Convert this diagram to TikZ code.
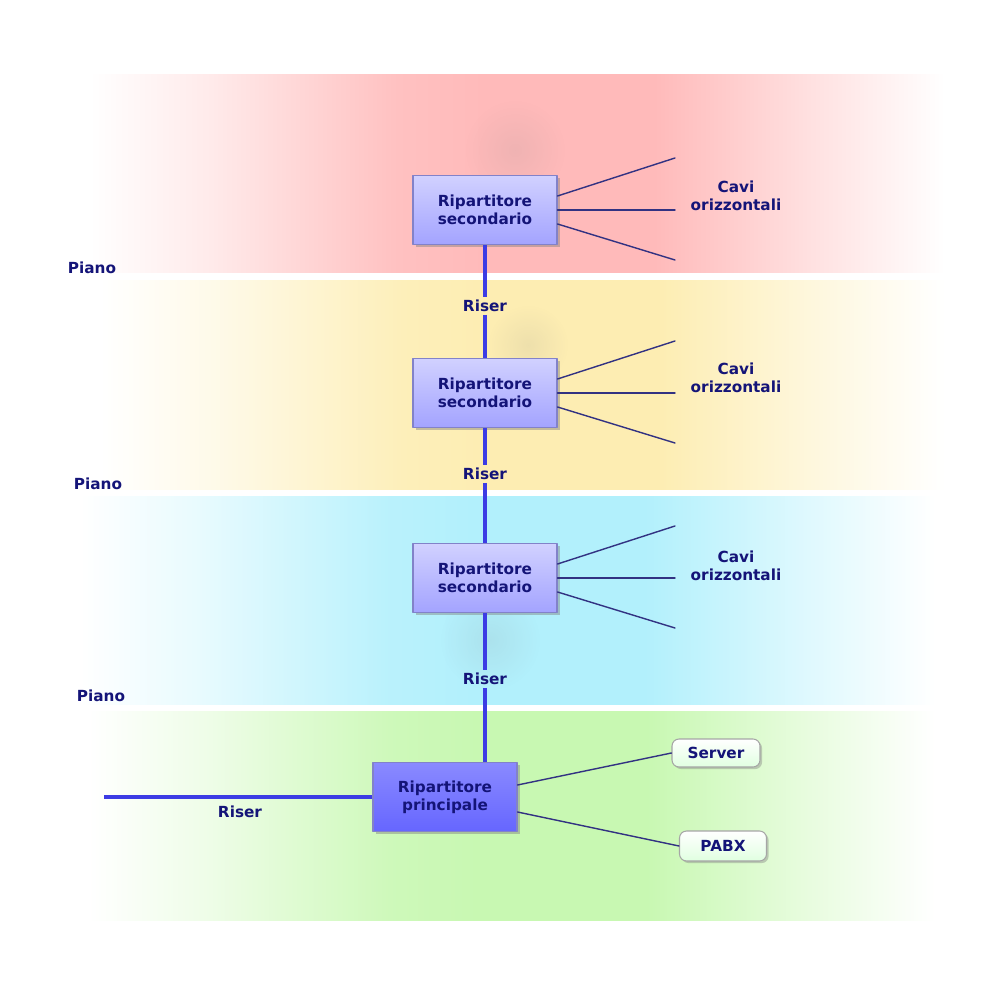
\documentclass[tikz,border=0pt]{standalone}
\usepackage{fontspec}
\setmainfont{DejaVu Sans}
\usetikzlibrary{shadows,fadings}

\definecolor{navy}{RGB}{20,20,120}
\definecolor{cablecol}{RGB}{50,50,130}
\definecolor{risercol}{RGB}{60,60,228}
\definecolor{redband}{RGB}{255,186,186}
\definecolor{yellowband}{RGB}{253,237,178}
\definecolor{blueband}{RGB}{178,240,252}
\definecolor{greenband}{RGB}{200,248,178}
\colorlet{bandcol}{redband}

\pgfdeclarehorizontalshading[bandcol]{band}{100bp}{color(0bp)=(white); color(25bp)=(white);
  color(32bp)=(bandcol!30); color(43bp)=(bandcol!90); color(48bp)=(bandcol); color(58bp)=(bandcol);
  color(67bp)=(bandcol!45); color(75bp)=(white); color(100bp)=(white)}
\tikzfading[name=glowfade, inner color=transparent!88, outer color=transparent!100]

\begin{document}
\begin{tikzpicture}[x=0.02cm, y=-0.02cm, font=\fontsize{8.7}{10}\selectfont\bfseries, line cap=round, line join=round,
    box/.style={draw=blue!40!gray!70, line width=0.6pt, top color=blue!18, bottom color=blue!36, text=navy,
      align=center, minimum width=2.88cm, minimum height=1.38cm,
      drop shadow={shadow xshift=1.6pt, shadow yshift=-1.6pt, opacity=0.45}},
    mainbox/.style={box, top color=blue!46, bottom color=blue!60},
    device/.style={draw=gray!70, line width=0.6pt, rounded corners=4pt, top color=white, bottom color=green!12!white,
      text=navy, minimum height=0.56cm,
      drop shadow={shadow xshift=1.2pt, shadow yshift=-1.2pt, opacity=0.4}},
    lbl/.style={text=navy, align=center, inner sep=1.5pt},
    riser/.style={draw=risercol, line width=2.8pt, line cap=butt},
    cable/.style={draw=cablecol, line width=0.8pt}]
\useasboundingbox (0,0) rectangle (1008,1006);
\fill[white] (0,0) rectangle (1008,1006);

% fasce dei piani
\foreach \col/\xa/\ya/\xb/\yb in {redband/90/75/945/273, yellowband/100/281/945/490,
    blueband/80/497/935/705, greenband/88/712/935/920} {
  \colorlet{bandcol}{\col}
  \shade[shading=band] (\xa,\ya) rectangle (\xb,\yb);
}

% aloni
\fill[black!50, path fading=glowfade] (515,150) circle (50);
\fill[black!50, path fading=glowfade] (528,345) circle (40);
\fill[black!50, path fading=glowfade] (490,640) circle (50);

% etichette dei piani
\node[lbl] (p1) at (92,268) {Piano};
\node[lbl] (p2) at (98,484) {Piano};
\node[lbl] (p3) at (101,696) {Piano};

% ripartitori
\node[box] (rs1) at (485,210) {Ripartitore\\secondario};
\node[box] (rs2) at (485,393) {Ripartitore\\secondario};
\node[box] (rs3) at (485,578) {Ripartitore\\secondario};
\node[mainbox] (rp) at (445,797) {Ripartitore\\principale};

% riser
\node[lbl] (lr1) at (485,306) {Riser};
\node[lbl] (lr2) at (485,474) {Riser};
\node[lbl] (lr3) at (485,679) {Riser};
\node[lbl] (lr4) at (240,812) {Riser};
\draw[riser] (rs1) -- (lr1) -- (rs2);
\draw[riser] (rs2) -- (lr2) -- (rs3);
\draw[riser] (rs3) -- (lr3) -- (lr3 |- rp.north);
\coordinate (rl) at (104,797);
\draw[riser] (rl) -- (rp.west);

% cavi orizzontali
\foreach \n/\y/\d in {1/210/14, 2/393/15, 3/578/12} {
  \coordinate (c\n a) at (675,\y-52);
  \coordinate (c\n b) at (675,\y);
  \coordinate (c\n c) at (675,\y+50);
  \draw[cable] ([yshift=14*0.02cm]rs\n.east) -- (c\n a);
  \draw[cable] (rs\n.east) -- (c\n b);
  \draw[cable] ([yshift=-14*0.02cm]rs\n.east) -- (c\n c);
  \node[lbl] (cv\n) at (736,\y-\d) {Cavi\\orizzontali};
}

% server e PABX
\node[device, minimum width=1.76cm] (srv) at (716,753) {Server};
\node[device, minimum width=1.74cm, minimum height=0.6cm] (pabx) at (723,846) {PABX};
\draw[cable] ([yshift=12*0.02cm]rp.east) -- (srv.west);
\draw[cable] ([yshift=-15*0.02cm]rp.east) -- (pabx.west);
\end{tikzpicture}
\end{document}
